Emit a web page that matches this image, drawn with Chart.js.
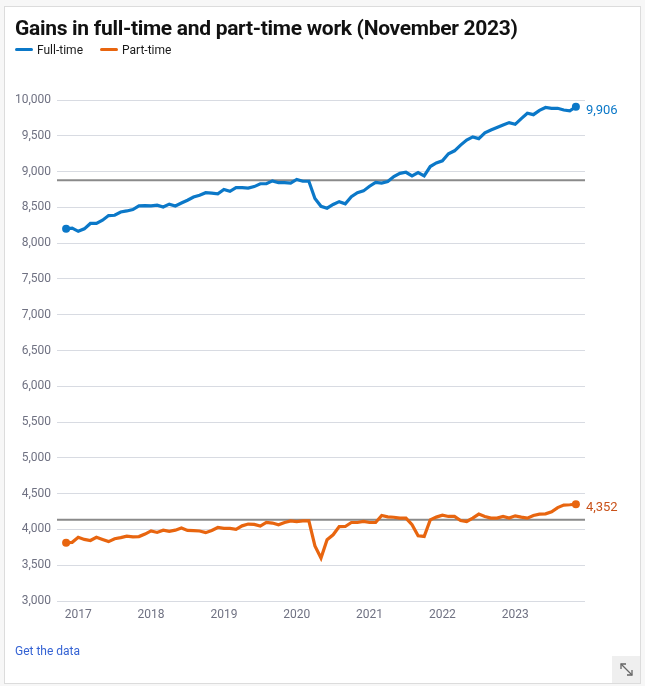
<!DOCTYPE html>
<html>
<head>
<meta charset="utf-8">
<script src="https://cdn.jsdelivr.net/npm/chart.js@4/dist/chart.umd.min.js"></script>
<style>
  html,body{margin:0;padding:0;background:#f7f7f7;width:645px;height:686px;overflow:hidden;font-family:Roboto,"Open Sans",sans-serif;}
  #card{position:absolute;left:4px;top:6px;width:635px;height:676px;background:#fff;border:1px solid #dcdcdc;}
  #chart{position:absolute;left:0;top:0;}
  #title{position:absolute;left:15px;top:16px;font-size:21px;font-weight:700;color:#111;letter-spacing:-0.3px;white-space:nowrap;}
  #legend{position:absolute;left:15px;top:43px;font-size:12px;color:#1a1a1a;white-space:nowrap;}
  .lg{display:inline-block;margin-right:17px;}
  .sw{display:inline-block;width:18px;height:3px;border-radius:2px;vertical-align:middle;margin-right:4px;position:relative;top:-1px;}
  #getdata{position:absolute;left:15px;top:644px;font-size:12px;color:#3563d4;}
  #resize{position:absolute;left:612px;top:656px;width:28px;height:27px;background:#efefef;}
</style>
</head>
<body>
<div id="card"></div>
<canvas id="chart" width="645" height="686"></canvas>
<div id="title">Gains in full-time and part-time work (November 2023)</div>
<div id="legend"><span class="lg"><span class="sw" style="background:#0b78c8"></span>Full-time</span><span class="lg"><span class="sw" style="background:#e8650f"></span>Part-time</span></div>
<div id="getdata">Get the data</div>
<div id="resize"><svg width="28" height="27" viewBox="0 0 28 27"><g stroke="#666" stroke-width="1.3" fill="none"><line x1="9" y1="8" x2="20" y2="19"/><polyline points="9,13 9,8 14,8"/><polyline points="15,19 20,19 20,14"/></g></svg></div>
<script>
// Monthly series, November 2016 to November 2023 (thousands of persons)
const START_YEAR = 2016, START_MONTH = 10; // November 2016 (0-based month)
const FULL_TIME = [
  8200, 8210, 8165, 8200, 8275, 8275, 8320, 8385, 8390, 8435,
  8450, 8470, 8520, 8525, 8520, 8530, 8505, 8545, 8520, 8560,
  8600, 8645, 8670, 8705, 8700, 8690, 8750, 8725, 8775, 8775,
  8770, 8790, 8830, 8830, 8870, 8845, 8845, 8840, 8890, 8865,
  8865, 8625, 8515, 8488, 8540, 8580, 8550, 8650, 8705, 8730,
  8795, 8850, 8840, 8860, 8930, 8975, 8990, 8940, 8985, 8940,
  9070, 9120, 9150, 9250, 9290, 9370, 9440, 9485, 9460, 9540,
  9580, 9615, 9650, 9684, 9660, 9740, 9814, 9795, 9855, 9895,
  9884, 9884, 9860, 9850, 9906
];
const PART_TIME = [
  3815, 3820, 3890, 3860, 3845, 3890, 3860, 3830, 3870, 3885,
  3905, 3895, 3900, 3935, 3980, 3958, 3990, 3972, 3990, 4020,
  3986, 3983, 3978, 3955, 3986, 4027, 4014, 4014, 4000, 4050,
  4075, 4070, 4047, 4097, 4089, 4065, 4097, 4120, 4110, 4120,
  4120, 3770, 3600, 3855, 3925, 4040, 4041, 4097, 4097, 4111,
  4097, 4097, 4195, 4175, 4170, 4158, 4158, 4065, 3911, 3902,
  4134, 4172, 4200, 4181, 4181, 4125, 4111, 4158, 4214, 4181,
  4158, 4158, 4181, 4158, 4190, 4172, 4158, 4195, 4214, 4218,
  4245, 4305, 4340, 4345, 4352
];
// Pre-pandemic reference levels (horizontal lines)
const FULL_TIME_REF = 8880;
const PART_TIME_REF = 4134;
// Axis ticks
const YEAR_LABELS = ["2017","2018","2019","2020","2021","2022","2023"];
const Y_MIN = 3000, Y_MAX = 10000, Y_STEP = 500;

const MONTHS = FULL_TIME.map((_, i) => {
  const m = START_MONTH + i;
  return { year: START_YEAR + Math.floor(m / 12), month: m % 12 };
});
const yearTickIndex = YEAR_LABELS.map(y => MONTHS.findIndex(m => m.year === +y && m.month === 0));
const n = FULL_TIME.length;
const X_MIN = -1.5, X_MAX = n - 1 + 1.5;

const toPts = arr => arr.map((v, i) => ({ x: i, y: v }));
const endRadius = arr => arr.map((_, i) => (i === 0 || i === arr.length - 1) ? 4 : 0);
const fmt = v => Number(v).toLocaleString('en-US');

const BLUE = '#0b78c8', ORANGE = '#e8650f', ORANGE_LABEL = '#c9521a';

const endLabels = {
  id: 'endLabels',
  afterDatasetsDraw(chart) {
    const ctx = chart.ctx;
    ctx.save();
    ctx.font = '13px Roboto, "Open Sans", sans-serif';
    ctx.textBaseline = 'middle';
    ctx.textAlign = 'left';
    [[0, BLUE], [1, ORANGE_LABEL]].forEach(([di, col]) => {
      const meta = chart.getDatasetMeta(di);
      const pt = meta.data[meta.data.length - 1];
      const val = chart.data.datasets[di].data[meta.data.length - 1].y;
      ctx.fillStyle = col;
      ctx.fillText(fmt(val), pt.x + 10, pt.y + 4);
    });
    ctx.restore();
  }
};

new Chart(document.getElementById('chart'), {
  type: 'line',
  data: {
    datasets: [
      { label: 'Full-time', data: toPts(FULL_TIME), borderColor: BLUE, backgroundColor: BLUE,
        borderWidth: 3.2, pointRadius: endRadius(FULL_TIME), pointBorderWidth: 0, tension: 0, order: 1 },
      { label: 'Part-time', data: toPts(PART_TIME), borderColor: ORANGE, backgroundColor: ORANGE,
        borderWidth: 3.2, pointRadius: endRadius(PART_TIME), pointBorderWidth: 0, tension: 0, order: 1 },
      { label: 'ft-ref', data: [{ x: X_MIN, y: FULL_TIME_REF }, { x: X_MAX, y: FULL_TIME_REF }],
        borderColor: '#8a8a8a', borderWidth: 2, pointRadius: 0, order: 2 },
      { label: 'pt-ref', data: [{ x: X_MIN, y: PART_TIME_REF }, { x: X_MAX, y: PART_TIME_REF }],
        borderColor: '#8a8a8a', borderWidth: 2, pointRadius: 0, order: 2 }
    ]
  },
  options: {
    responsive: false,
    animation: false,
    layout: { padding: { top: 100, left: 0, right: 60, bottom: 60 } },
    plugins: { legend: { display: false }, tooltip: { enabled: false }, title: { display: false } },
    scales: {
      x: {
        type: 'linear', min: X_MIN, max: X_MAX,
        grid: { display: false, drawTicks: false },
        border: { display: false },
        afterBuildTicks: s => { s.ticks = yearTickIndex.map(v => ({ value: v })); },
        afterFit: s => { s.height = 25; },
        ticks: {
          autoSkip: false, maxRotation: 0, padding: 7,
          color: '#6f7182', font: { size: 12, family: 'Roboto, "Open Sans", sans-serif' },
          callback: v => YEAR_LABELS[yearTickIndex.indexOf(v)]
        }
      },
      y: {
        min: Y_MIN, max: Y_MAX,
        grid: { color: '#d8dbe2', lineWidth: 1, drawTicks: false },
        border: { display: false },
        afterFit: s => { s.width = 57; },
        ticks: {
          stepSize: Y_STEP, padding: 6,
          color: '#6f7182', font: { size: 12, family: 'Roboto, "Open Sans", sans-serif' },
          callback: v => fmt(v)
        }
      }
    }
  },
  plugins: [endLabels]
});
</script>
</body>
</html>
